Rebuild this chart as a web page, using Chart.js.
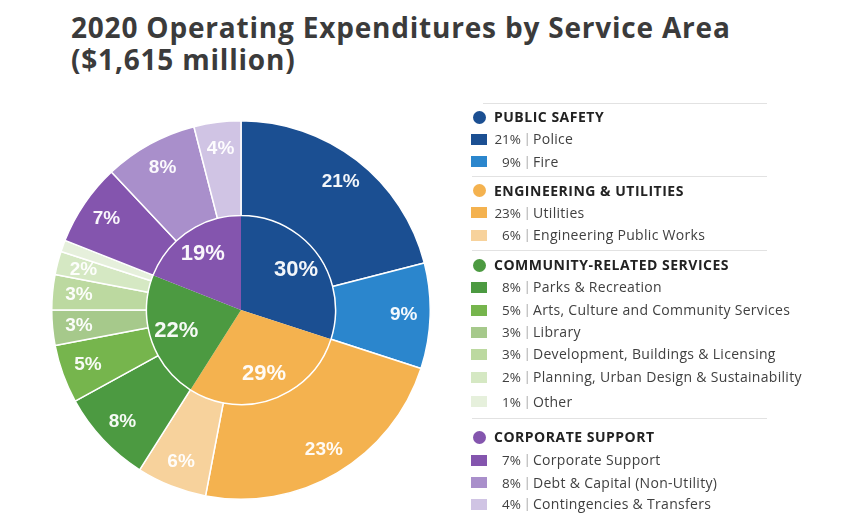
<!DOCTYPE html>
<html>
<head>
<meta charset="utf-8">
<script src="https://cdn.jsdelivr.net/npm/chart.js@4/dist/chart.umd.min.js"></script>
<style>
  html, body { margin:0; padding:0; background:#ffffff; }
  body { width:846px; height:530px; position:relative; overflow:hidden; font-family:"Open Sans", sans-serif; }
  #title { position:absolute; left:71px; top:11px; font-family:"Open Sans", sans-serif; font-weight:700; font-size:28px; line-height:32px; color:#3b3b3b; letter-spacing:0.8px; white-space:nowrap; }
  #pie { position:absolute; left:51px; top:120px; width:380px; height:380px; }
  #legend { position:absolute; left:0; top:0; width:846px; height:530px; }
  .sep { position:absolute; height:1px; background:#e2e2e2; }
  .dot { position:absolute; width:13px; height:13px; border-radius:50%; }
  .hdr { position:absolute; font-weight:700; font-size:14px; letter-spacing:0.5px; color:#222; white-space:nowrap; line-height:16px; }
  .sq { position:absolute; width:16px; height:11px; }
  .pct { position:absolute; width:40px; text-align:right; font-size:13.5px; letter-spacing:0px; color:#404040; line-height:16px; }
  .bar { position:absolute; font-size:13.5px; color:#aaaaaa; line-height:16px; }
  .lbl { position:absolute; font-size:14px; letter-spacing:0.3px; color:#404040; white-space:nowrap; line-height:16px; }
</style>
</head>
<body>
<div id="title">2020 Operating Expenditures by Service Area<br>($1,615 million)</div>
<div id="pie"><canvas id="c"></canvas></div>
<div id="legend"></div>
<script>
// ---- data ----
const groupNames = ["PUBLIC SAFETY", "ENGINEERING & UTILITIES", "COMMUNITY-RELATED SERVICES", "CORPORATE SUPPORT"];
const groupValues = [30, 29, 22, 19];
const groupColors = ["#1b4f92", "#f4b24f", "#4c9a41", "#8455ae"];

const itemNames = ["Police", "Fire", "Utilities", "Engineering Public Works", "Parks & Recreation",
  "Arts, Culture and Community Services", "Library", "Development, Buildings & Licensing",
  "Planning, Urban Design & Sustainability", "Other", "Corporate Support",
  "Debt & Capital (Non-Utility)", "Contingencies & Transfers"];
const itemValues = [21, 9, 23, 6, 8, 5, 3, 3, 2, 1, 7, 8, 4];
const itemGroup = [0, 0, 1, 1, 2, 2, 2, 2, 2, 2, 3, 3, 3];
const itemColors = ["#1b4f92", "#2b86cd", "#f4b24f", "#f7d29c", "#4c9a41", "#76b54d", "#a6c98b",
  "#bcd9a0", "#d5e8c3", "#e6f0dc", "#8455ae", "#a98fcb", "#d0c4e4"];

// ---- legend layout (positions only) ----
const sepY = [103, 176, 250, 418];
const sepX = [483, 472, 472, 472];
const hdrY = [117, 190.5, 265, 437];
const rowY = [139, 161.7, 212.7, 235, 287.3, 310, 332.3, 354.3, 377.3, 401.7, 460, 482.7, 504.3];

const leg = document.getElementById('legend');
function add(cls, styles, text) {
  const d = document.createElement('div');
  d.className = cls;
  Object.assign(d.style, styles);
  if (text !== undefined) d.textContent = text;
  leg.appendChild(d);
  return d;
}
groupNames.forEach((g, gi) => {
  add('sep', {left: sepX[gi] + 'px', width: (767 - sepX[gi]) + 'px', top: sepY[gi] + 'px'});
  add('dot', {left: '473px', top: (hdrY[gi] - 6.5) + 'px', background: groupColors[gi]});
  add('hdr', {left: '494px', top: (hdrY[gi] - 8) + 'px'}, g);
});
itemNames.forEach((n, i) => {
  const yy = rowY[i];
  add('sq', {left: '471px', top: (yy - 5.5) + 'px', background: itemColors[i]});
  add('pct', {left: '481px', top: (yy - 8) + 'px'}, itemValues[i] + '%');
  add('bar', {left: '523.5px', top: (yy - 9) + 'px'}, '|');
  add('lbl', {left: '533px', top: (yy - 8) + 'px'}, n);
});

// ---- pie labels plugin ----
const sliceLabels = {
  id: 'sliceLabels',
  afterDatasetsDraw(chart) {
    const ctx = chart.ctx;
    chart.data.datasets.forEach((ds, di) => {
      const meta = chart.getDatasetMeta(di);
      meta.data.forEach((arc, i) => {
        const v = ds.data[i];
        if (v < 2) return;
        const p = arc.getProps(['x', 'y', 'startAngle', 'endAngle', 'innerRadius', 'outerRadius'], true);
        const a = (p.startAngle + p.endAngle) / 2;
        const r = p.innerRadius + 0.72 * (p.outerRadius - p.innerRadius);
        ctx.save();
        ctx.font = (di === 0 ? 'bold 19px' : 'bold 22px') + ' "Liberation Sans", Arial, sans-serif';
        ctx.fillStyle = 'rgba(255,255,255,0.95)';
        ctx.textAlign = 'center';
        ctx.textBaseline = 'middle';
        ctx.fillText(v + '%', p.x + Math.cos(a) * r, p.y + Math.sin(a) * r);
        ctx.restore();
      });
    });
  }
};

new Chart(document.getElementById('c'), {
  type: 'doughnut',
  data: {
    labels: itemNames,
    datasets: [
      {data: itemValues, backgroundColor: itemColors, borderColor: '#ffffff', borderWidth: 1.5, hoverBorderWidth: 1.5},
      {data: groupValues, backgroundColor: groupColors, borderWidth: 0, hoverBorderWidth: 0}
    ]
  },
  options: {
    responsive: true,
    maintainAspectRatio: false,
    animation: false,
    cutout: 0,
    layout: {padding: 0},
    plugins: {legend: {display: false}, tooltip: {enabled: false}}
  },
  plugins: [sliceLabels]
});
</script>
</body>
</html>
